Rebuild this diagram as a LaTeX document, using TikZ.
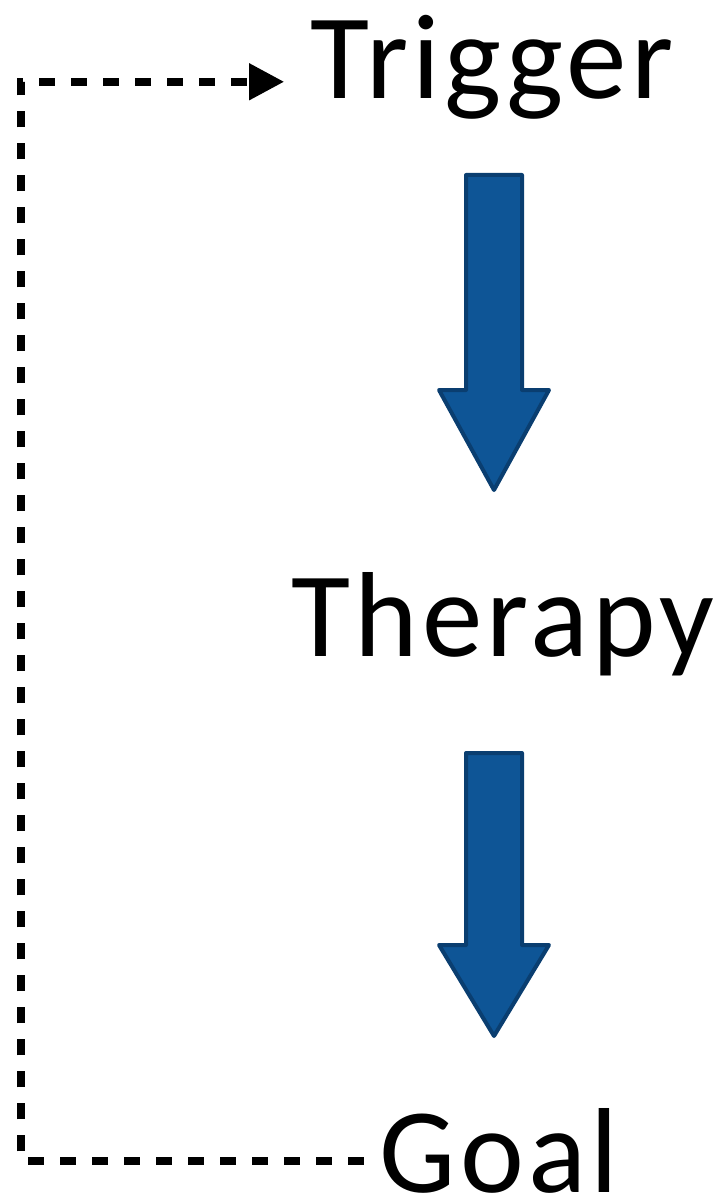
\documentclass[tikz,border=0pt]{standalone}
\usepackage{fontspec}
\setmainfont{Carlito}[LetterSpace=3.5]
\usetikzlibrary{arrows.meta}
\definecolor{arrowblue}{RGB}{14,85,150}
\definecolor{arrowedge}{RGB}{10,62,112}

\begin{document}
\begin{tikzpicture}[x=1pt,y=-1pt,
  steplabel/.style={font=\fontsize{121}{121}\selectfont, inner sep=0pt, anchor=base},
  dashline/.style={line width=7.5pt, dash pattern=on 16pt off 16pt},
  blockarrow/.style={fill=arrowblue, draw=arrowedge, line width=4pt, line join=round}]
  % half widths of shaft and head
  \def\sw{28}
  \def\hw{55}
  \useasboundingbox (0,0) rectangle (727,1201);

  % steps
  \node[steplabel] (trigger) at (492,99) {Trigger};
  \node[steplabel] (therapy) at (503,656) {Therapy};
  \node[steplabel] (goal) at (499,1192) {Goal};

  % block arrows: x / top / head base / tip
  \foreach \x/\top/\base/\tip in {494/175/390/490, 494/753/945/1036}
    \draw[blockarrow] (\x-\sw,\top) -- (\x+\sw,\top) -- (\x+\sw,\base) -- (\x+\hw,\base)
      -- (\x,\tip) -- (\x-\hw,\base) -- (\x-\sw,\base) -- cycle;

  % feedback loop
  \coordinate (loop) at (21,600);
  \draw[dashline, -{Triangle[length=35pt,width=35pt]}]
    ([xshift=-16pt,yshift=-10.5pt]goal.west) -| (loop) |- ([xshift=-26pt,yshift=-14pt]trigger.west);
\end{tikzpicture}
\end{document}
